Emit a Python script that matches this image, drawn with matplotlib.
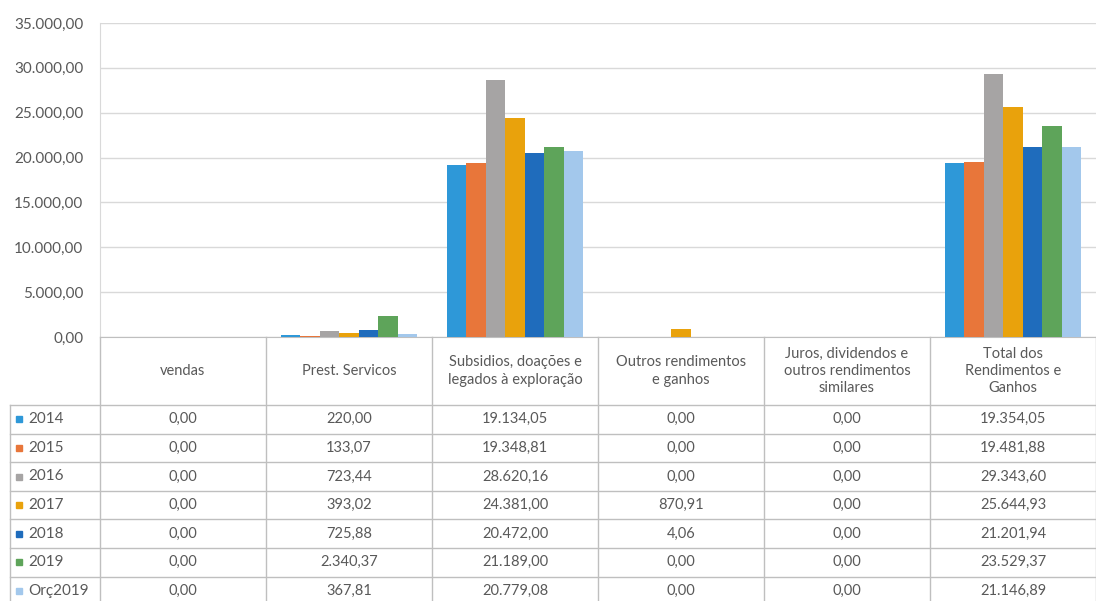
import matplotlib
matplotlib.use("Agg")
import matplotlib.pyplot as plt
import numpy as np
from matplotlib.lines import Line2D
from matplotlib.patches import Rectangle

plt.rcParams['font.family'] = ['Lato', 'DejaVu Sans']

categories = [
    "vendas",
    "Prest. Servicos",
    "Subsidios, doações e\nlegados à exploração",
    "Outros rendimentos\ne ganhos",
    "Juros, dividendos e\noutros rendimentos\nsimilares",
    "Total dos\nRendimentos e\nGanhos",
]
series_names = ["2014", "2015", "2016", "2017", "2018", "2019", "Orç2019"]
v2014 = [0.00, 220.00, 19134.05, 0.00, 0.00, 19354.05]
v2015 = [0.00, 133.07, 19348.81, 0.00, 0.00, 19481.88]
v2016 = [0.00, 723.44, 28620.16, 0.00, 0.00, 29343.60]
v2017 = [0.00, 393.02, 24381.00, 870.91, 0.00, 25644.93]
v2018 = [0.00, 725.88, 20472.00, 4.06, 0.00, 21201.94]
v2019 = [0.00, 2340.37, 21189.00, 0.00, 0.00, 23529.37]
vorc2019 = [0.00, 367.81, 20779.08, 0.00, 0.00, 21146.89]
series_values = [v2014, v2015, v2016, v2017, v2018, v2019, vorc2019]
y_ticks = [0, 5000, 10000, 15000, 20000, 25000, 30000, 35000]

colors = ["#2E98D8", "#E8763A", "#A6A4A4", "#E9A20C", "#1F6CBC", "#5EA45A", "#A3C8EC"]
text_color = "#595959"
grid_color = "#D9D9D9"


def pt_format(v):
    s = f"{v:,.2f}"
    return s.replace(",", "X").replace(".", ",").replace("X", ".")


W, H = 1096, 601
fig = plt.figure(figsize=(W / 100, H / 100), dpi=100)

# pixel geometry of the chart area
left_px, right_px = 100, 1096
top_px, base_px = 23, 337


def fx(px):
    return px / W


def fy(py):
    return 1 - py / H


ax = fig.add_axes([fx(left_px), fy(base_px), fx(right_px - left_px), (base_px - top_px) / H])
n_cat = len(categories)
n_ser = len(series_names)
x = np.arange(n_cat)
bar_w = 1 / (n_ser + 1.5)
for i, (name, vals) in enumerate(zip(series_names, series_values)):
    offs = (i - (n_ser - 1) / 2) * bar_w
    ax.bar(x + offs, vals, width=bar_w, color=colors[i], zorder=3, linewidth=0)

ax.set_xlim(-0.5, n_cat - 0.5)
ax.set_ylim(0, 35000)
ax.set_yticks(y_ticks)
ax.set_yticklabels([pt_format(t) for t in y_ticks], color=text_color, fontsize=11)
ax.tick_params(axis='y', length=0, pad=12)
ax.set_xticks([])
ax.grid(axis='y', color=grid_color, linewidth=1, zorder=0)
for s in ["top", "right"]:
    ax.spines[s].set_visible(False)
ax.spines["left"].set_color(grid_color)
ax.spines["bottom"].set_color("#BFBFBF")

# data table below the chart
col_w = (right_px - left_px) / n_cat
row_top = 405
row_h = 28.6
bottom_px = row_top + row_h * n_ser
line_kw = dict(color="#BFBFBF", linewidth=1, transform=fig.transFigure)

# vertical column separators
for j in range(n_cat + 1):
    xp = left_px + j * col_w
    fig.add_artist(Line2D([fx(xp), fx(xp)], [fy(base_px), fy(bottom_px + 5)], **line_kw))
# legend column left border
fig.add_artist(Line2D([fx(10), fx(10)], [fy(row_top), fy(bottom_px + 5)], **line_kw))
# horizontal row separators
for r in range(n_ser + 1):
    yp = row_top + r * row_h
    fig.add_artist(Line2D([fx(10), fx(right_px)], [fy(yp), fy(yp)], **line_kw))

# header labels
for j, cat in enumerate(categories):
    cx = left_px + (j + 0.5) * col_w
    fig.text(fx(cx), fy((base_px + row_top) / 2), cat, ha="center", va="center",
             fontsize=10.5, color=text_color, linespacing=1.3)

# rows with legend keys and values
for i, (name, vals) in enumerate(zip(series_names, series_values)):
    cy = row_top + (i + 0.5) * row_h
    fig.add_artist(Rectangle((fx(16), fy(cy + 3)), 6 / W, 6 / H, color=colors[i],
                             transform=fig.transFigure))
    fig.text(fx(28), fy(cy), name, ha="left", va="center", fontsize=11, color=text_color)
    for j, v in enumerate(vals):
        cx = left_px + (j + 0.5) * col_w
        fig.text(fx(cx), fy(cy), pt_format(v), ha="center", va="center",
                 fontsize=10.5, color=text_color)

fig.savefig("out.png", dpi=100)
